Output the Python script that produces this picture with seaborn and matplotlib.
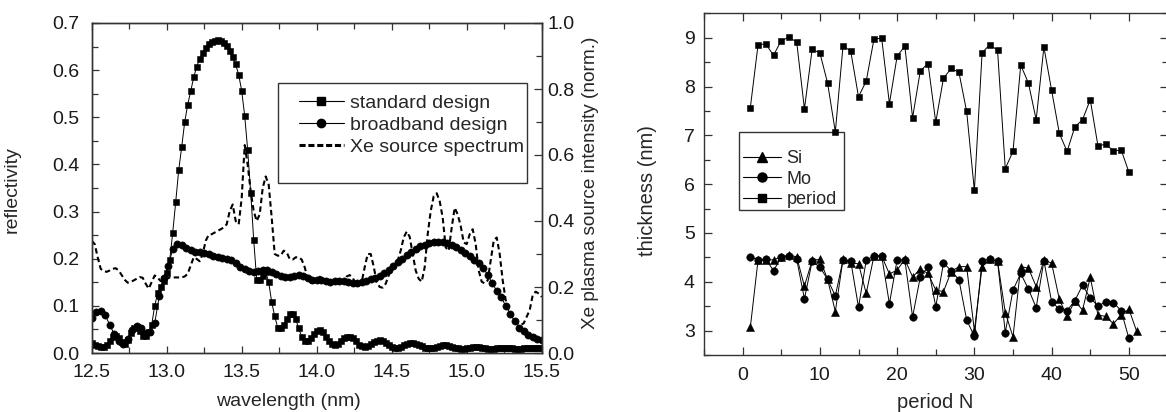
import numpy as np
import pandas as pd
import matplotlib
matplotlib.use("Agg")
import matplotlib.pyplot as plt
from matplotlib.ticker import MultipleLocator, FormatStrFormatter
from matplotlib.patches import Rectangle
from matplotlib.lines import Line2D
import seaborn as sns

# ---------------- data: left panel ----------------
wl_std = np.round(np.linspace(12.5, 15.5, 151), 2)
refl_std = [0.022, 0.018, 0.014, 0.012, 0.013, 0.018, 0.025, 0.033, 0.036, 0.032,
            0.024, 0.020, 0.028, 0.042, 0.053, 0.055, 0.046, 0.037, 0.036, 0.045,
            0.060, 0.100, 0.127, 0.140, 0.152, 0.170, 0.197, 0.255, 0.320, 0.388,
            0.437, 0.490, 0.527, 0.555, 0.585, 0.607, 0.624, 0.637, 0.647, 0.655,
            0.660, 0.662, 0.663, 0.662, 0.658, 0.651, 0.641, 0.628, 0.612, 0.590,
            0.556, 0.503, 0.430, 0.340, 0.240, 0.155, 0.155, 0.163, 0.172, 0.150,
            0.108, 0.078, 0.054, 0.052, 0.060, 0.072, 0.082, 0.083, 0.072, 0.052,
            0.035, 0.026, 0.026, 0.032, 0.040, 0.046, 0.048, 0.044, 0.035, 0.025,
            0.019, 0.017, 0.020, 0.026, 0.031, 0.034, 0.034, 0.031, 0.025, 0.018,
            0.014, 0.013, 0.015, 0.019, 0.023, 0.026, 0.027, 0.026, 0.022, 0.017,
            0.013, 0.011, 0.011, 0.013, 0.016, 0.019, 0.021, 0.021, 0.020, 0.017,
            0.014, 0.011, 0.010, 0.010, 0.011, 0.013, 0.015, 0.016, 0.016, 0.015,
            0.013, 0.011, 0.010, 0.009, 0.009, 0.010, 0.011, 0.012, 0.012, 0.012,
            0.011, 0.010, 0.009, 0.009, 0.009, 0.010, 0.010, 0.011, 0.011, 0.010,
            0.010, 0.009, 0.009, 0.009, 0.010, 0.010, 0.010, 0.010, 0.010, 0.010,
            0.010]

wl_bb = np.round(np.linspace(12.5, 15.5, 101), 2)
refl_bb = [0.075, 0.086, 0.090, 0.080, 0.060, 0.040, 0.026, 0.020, 0.030, 0.048,
           0.058, 0.052, 0.043, 0.045, 0.063, 0.120, 0.160, 0.185, 0.220, 0.232,
           0.230, 0.223, 0.218, 0.215, 0.214, 0.213, 0.210, 0.206, 0.203, 0.201,
           0.200, 0.197, 0.190, 0.183, 0.178, 0.174, 0.172, 0.174, 0.177, 0.177,
           0.172, 0.167, 0.164, 0.162, 0.162, 0.164, 0.166, 0.164, 0.159, 0.155,
           0.154, 0.155, 0.153, 0.151, 0.152, 0.153, 0.152, 0.150, 0.148, 0.148,
           0.150, 0.153, 0.157, 0.160, 0.163, 0.169, 0.176, 0.184, 0.192, 0.200,
           0.208, 0.215, 0.221, 0.226, 0.230, 0.233, 0.235, 0.236, 0.235, 0.233,
           0.229, 0.224, 0.218, 0.213, 0.206, 0.198, 0.190, 0.180, 0.166, 0.148,
           0.132, 0.118, 0.100, 0.083, 0.067, 0.054, 0.046, 0.038, 0.033, 0.029,
           0.027]

wl_xe = np.round(np.linspace(12.5, 15.5, 151), 2)
xe_norm = [0.340, 0.330, 0.290, 0.255, 0.248, 0.246, 0.250, 0.255, 0.257, 0.250,
           0.236, 0.222, 0.213, 0.215, 0.220, 0.225, 0.230, 0.228, 0.210, 0.195,
           0.215, 0.235, 0.228, 0.218, 0.218, 0.225, 0.229, 0.229, 0.229, 0.229,
           0.229, 0.232, 0.240, 0.265, 0.290, 0.285, 0.278, 0.300, 0.340, 0.358,
           0.360, 0.365, 0.370, 0.375, 0.380, 0.390, 0.430, 0.450, 0.400, 0.390,
           0.470, 0.630, 0.570, 0.490, 0.430, 0.400, 0.420, 0.500, 0.535, 0.510,
           0.410, 0.300, 0.295, 0.295, 0.310, 0.305, 0.285, 0.283, 0.290, 0.290,
           0.283, 0.260, 0.225, 0.213, 0.212, 0.222, 0.231, 0.228, 0.222, 0.215,
           0.212, 0.218, 0.222, 0.218, 0.220, 0.232, 0.236, 0.228, 0.210, 0.203,
           0.215, 0.260, 0.300, 0.300, 0.262, 0.215, 0.200, 0.198, 0.210, 0.235,
           0.255, 0.270, 0.280, 0.310, 0.350, 0.368, 0.352, 0.300, 0.250, 0.225,
           0.216, 0.260, 0.360, 0.430, 0.475, 0.484, 0.460, 0.410, 0.320, 0.310,
           0.380, 0.440, 0.420, 0.385, 0.335, 0.330, 0.360, 0.375, 0.330, 0.250,
           0.216, 0.211, 0.220, 0.280, 0.340, 0.350, 0.300, 0.220, 0.160, 0.130,
           0.115, 0.100, 0.090, 0.085, 0.090, 0.110, 0.130, 0.175, 0.186, 0.180,
           0.170]

# ---------------- data: right panel ----------------
n_period = list(range(1, 51))
period = [7.57, 8.86, 8.87, 8.64, 8.94, 9.01, 8.91, 7.54, 8.76, 8.69,
          8.07, 7.07, 8.84, 8.72, 7.79, 8.11, 8.97, 8.99, 7.65, 8.62,
          8.83, 7.36, 8.32, 8.47, 7.27, 8.17, 8.37, 8.29, 7.49, 5.87,
          8.69, 8.86, 8.74, 6.32, 6.67, 8.44, 8.07, 7.32, 8.81, 7.92,
          7.04, 6.67, 7.17, 7.32, 7.73, 6.78, 6.82, 6.68, 6.70, 6.25]
n_mo = list(range(1, 51))
mo = [4.51, 4.45, 4.46, 4.23, 4.50, 4.53, 4.46, 3.65, 4.42, 4.30,
      4.05, 3.71, 4.45, 4.42, 3.48, 4.44, 4.53, 4.53, 3.55, 4.45,
      4.45, 3.28, 4.10, 4.31, 3.49, 4.38, 4.23, 4.04, 3.22, 2.88,
      4.43, 4.46, 4.42, 2.96, 3.83, 4.17, 3.85, 3.47, 4.43, 3.59,
      3.44, 3.41, 3.61, 3.93, 3.67, 3.50, 3.59, 3.57, 3.41, 2.84]
n_si = list(range(1, 52))
si = [3.07, 4.45, 4.45, 4.45, 4.51, 4.55, 4.51, 3.91, 4.44, 4.46,
      4.05, 3.39, 4.46, 4.38, 4.37, 3.76, 4.53, 4.53, 4.16, 4.24,
      4.46, 4.10, 4.26, 4.17, 3.83, 3.80, 4.21, 4.31, 4.31, 3.00,
      4.31, 4.46, 4.42, 3.37, 2.87, 4.31, 4.28, 3.90, 4.45, 4.38,
      3.64, 3.29, 3.61, 3.42, 4.09, 3.32, 3.29, 3.14, 3.32, 3.44,
      2.99]

left_labels = ["standard design", "broadband design", "Xe source spectrum"]
right_labels = ["Si", "Mo", "period"]

# ---------------- style ----------------
sns.set_style("ticks")
plt.rcParams['font.family'] = ['Liberation Sans', 'DejaVu Sans']
plt.rcParams['axes.edgecolor'] = '#333333'
plt.rcParams['axes.linewidth'] = 1.0
plt.rcParams['xtick.color'] = '#333333'
plt.rcParams['ytick.color'] = '#333333'
plt.rcParams['xtick.labelcolor'] = '#1a1a1a'
plt.rcParams['ytick.labelcolor'] = '#1a1a1a'

W, H = 1166, 412
fig = plt.figure(figsize=(W / 100, H / 100), dpi=100)

def fx(px):
    return px / W

def fy(py):
    return 1 - py / H

TICK_FS = 14
LAB_FS = 14
LEG_FS = 14

# left axes: px x 91.7..541.7, y 23..353
ax1 = fig.add_axes([fx(91.7), fy(353), (541.7 - 91.7) / W, (353 - 23) / H])
ax2 = ax1.twinx()
# right axes: px x 704..1167.5, y 13.3..355
ax3 = fig.add_axes([fx(704), fy(355), (1167.5 - 704) / W, (355 - 13.3) / H])

line_kw = dict(color='black', lw=0.7, estimator=None, sort=False, legend=False)

sns.lineplot(x=wl_std, y=refl_std, ax=ax1, marker='s', markersize=4.6,
             mec='black', mew=0.4, **line_kw)
sns.lineplot(x=wl_bb, y=refl_bb, ax=ax1, marker='o', markersize=5.2,
             mec='black', mew=0.4, **line_kw)
sns.lineplot(x=wl_xe, y=xe_norm, ax=ax2, color='black', lw=1.5,
             linestyle=(0, (2.6, 1.6)), estimator=None, sort=False, legend=False)

ax1.set_xlim(12.5, 15.5)
ax1.set_ylim(0, 0.7)
ax2.set_ylim(0, 1.0)
ax1.xaxis.set_major_locator(MultipleLocator(0.5))
ax1.xaxis.set_minor_locator(MultipleLocator(0.25))
ax1.yaxis.set_major_locator(MultipleLocator(0.1))
ax1.yaxis.set_minor_locator(MultipleLocator(0.05))
ax1.xaxis.set_major_formatter(FormatStrFormatter('%.1f'))
ax1.yaxis.set_major_formatter(FormatStrFormatter('%.1f'))
ax2.yaxis.set_major_locator(MultipleLocator(0.2))
ax2.yaxis.set_minor_locator(MultipleLocator(0.1))
ax2.yaxis.set_major_formatter(FormatStrFormatter('%.1f'))

ax1.tick_params(axis='both', which='both', direction='in', top=True, right=False,
                labelsize=TICK_FS)
ax1.tick_params(axis='both', which='major', length=5, width=0.9)
ax1.tick_params(axis='both', which='minor', length=4, width=0.9)
ax1.tick_params(axis='x', which='major', pad=8)
ax1.tick_params(axis='y', which='major', pad=9)
ax2.tick_params(axis='y', which='both', direction='in', labelsize=TICK_FS)
ax2.tick_params(axis='y', which='major', length=6, width=0.9, pad=4)
ax2.tick_params(axis='y', which='minor', length=4, width=0.9)
for a in (ax1, ax2):
    for s in a.spines.values():
        s.set_visible(True)
        s.set_color('#333333')

ax1.set_xlabel('wavelength (nm)', fontsize=LAB_FS)
ax1.xaxis.set_label_coords(0.438, -0.121)
ax1.set_ylabel('reflectivity', fontsize=LAB_FS)
ax1.yaxis.set_label_coords(-0.159, 0.494)
ax2.set_ylabel('Xe plasma source intensity (norm.)', fontsize=LAB_FS - 0.3)
ax2.yaxis.set_label_coords(1.09, 0.515)

# legend left
h_left = [Line2D([], [], color='black', lw=0.8, marker='s', markersize=5.5),
          Line2D([], [], color='black', lw=0.8, marker='o', markersize=6),
          Line2D([], [], color='black', lw=2.2, linestyle=(0, (2.0, 0.9)))]
leg1 = ax1.legend(h_left, left_labels, loc='upper left', frameon=False,
                  bbox_to_anchor=(fx(299), fy(94)), bbox_transform=fig.transFigure,
                  borderpad=0, borderaxespad=0, handlelength=2.3, handletextpad=0.3,
                  labelspacing=0.23, numpoints=1, fontsize=LEG_FS)
ax1.add_patch(Rectangle((fx(278.3), fy(182.7)), fx(526.7) - fx(278.3), fy(83.3) - fy(182.7),
                        transform=fig.transFigure, fill=False, ec='#333333', lw=1.0,
                        clip_on=False))

# ---------------- right panel ----------------
sns.lineplot(x=n_si, y=si, ax=ax3, marker='^', markersize=6.2, mec='black', mew=0.4,
             **line_kw)
sns.lineplot(x=n_mo, y=mo, ax=ax3, marker='o', markersize=5.4, mec='black', mew=0.4,
             **line_kw)
sns.lineplot(x=n_period, y=period, ax=ax3, marker='s', markersize=5.0, mec='black',
             mew=0.4, **line_kw)

ax3.set_xlim(-5, 55)
ax3.set_ylim(2.5, 9.5)
ax3.xaxis.set_major_locator(MultipleLocator(10))
ax3.xaxis.set_minor_locator(MultipleLocator(5))
ax3.yaxis.set_major_locator(MultipleLocator(1))
ax3.yaxis.set_minor_locator(MultipleLocator(0.5))
ax3.tick_params(axis='both', which='both', direction='in', top=True, right=True,
                labelsize=TICK_FS)
ax3.tick_params(axis='both', which='major', length=6, width=0.9)
ax3.tick_params(axis='both', which='minor', length=4, width=0.9)
ax3.tick_params(axis='x', which='major', pad=9)
ax3.tick_params(axis='y', which='major', pad=6.5)
for s in ax3.spines.values():
    s.set_visible(True)
    s.set_color('#333333')

ax3.set_xlabel('period N', fontsize=LAB_FS + 0.5)
ax3.xaxis.set_label_coords(0.499, -0.111)
ax3.set_ylabel('thickness (nm)', fontsize=LAB_FS + 0.5)
ax3.yaxis.set_label_coords(-0.1016, 0.48)

h_right = [Line2D([], [], color='black', lw=0.8, marker='^', markersize=7),
           Line2D([], [], color='black', lw=0.8, marker='o', markersize=6.5),
           Line2D([], [], color='black', lw=0.8, marker='s', markersize=6)]
leg3 = ax3.legend(h_right, right_labels, loc='upper left', frameon=False,
                  bbox_to_anchor=(fx(743), fy(150)), bbox_transform=fig.transFigure,
                  borderpad=0, borderaxespad=0, handlelength=2.1, handletextpad=0.3,
                  labelspacing=0.2, numpoints=1, fontsize=13)
ax3.add_patch(Rectangle((fx(739.3), fy(210)), fx(844) - fx(739.3), fy(132.3) - fy(210),
                        transform=fig.transFigure, fill=False, ec='#333333', lw=1.0,
                        clip_on=False))

fig.savefig('out.png', dpi=100)
